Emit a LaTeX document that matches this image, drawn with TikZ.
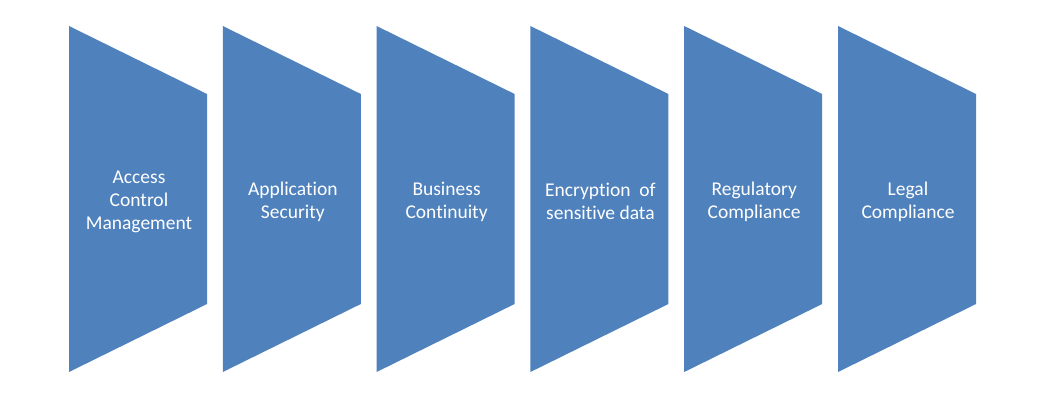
\documentclass[tikz,border=0pt]{standalone}
\usepackage{fontspec}
\setmainfont[Ligatures=CommonOff]{Carlito}
\definecolor{chevblue}{HTML}{4F81BD}
\tikzset{
  chev/.style={fill=chevblue},
  chevtext/.style={text=white, align=center, font=\fontsize{19.5pt}{23pt}\selectfont, inner sep=0pt}
}
\begin{document}
\begin{tikzpicture}[x=1pt,y=-1pt]
\useasboundingbox (0,0) rectangle (1042,410);
\foreach \i/\t in {0/{Access\\Control\\Management},1/{Application\\Security},2/{Business\\Continuity},3/{Encryption\ \ of\\sensitive data},4/{Regulatory\\Compliance},5/{Legal\\Compliance}}{
  \pgfmathsetmacro{\xl}{69+153.8*\i}
  \pgfmathsetmacro{\xr}{\xl+138}
  \fill[chev] (\xl,26) -- (\xr,94) -- (\xr,304) -- (\xl,372) -- cycle;
  \node[chevtext] (t\i) at ({\xl+70},201.5) {\t};
}
\end{tikzpicture}
\end{document}
